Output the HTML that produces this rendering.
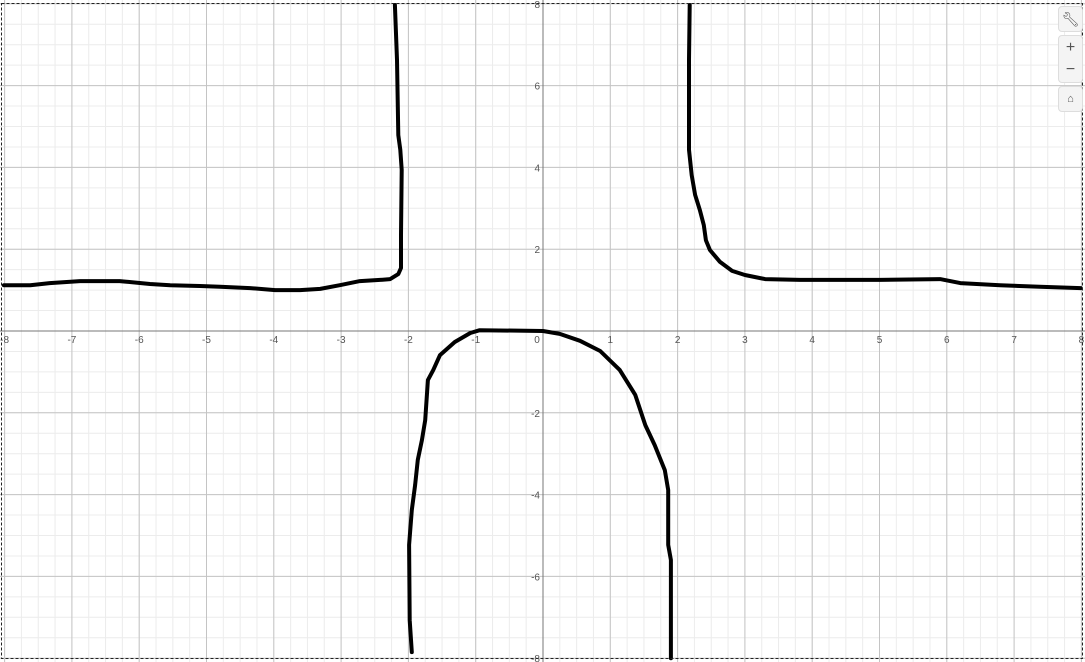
<!DOCTYPE html>
<html><head><meta charset="utf-8"><style>
html,body{margin:0;padding:0;background:#fff;}
#wrap{position:relative;width:1085px;height:662px;overflow:hidden;font-family:"Liberation Sans",sans-serif;}
svg{position:absolute;left:0;top:0;}
.btn{position:absolute;left:1058px;width:23px;background:#f4f4f4;border:1px solid #ddd;border-radius:4px;color:#555;text-align:center;font-size:14px;}
</style></head><body>
<div id="wrap">
<svg id="chart" width="1085" height="662"></svg>
<div class="btn" style="top:6px;height:24px;line-height:24px;">&#x1F527;&#xFE0E;</div>
<div class="btn" style="top:35px;height:46px;">
<div style="height:23px;line-height:23px;font-size:16px;">+</div>
<div style="height:23px;line-height:21px;font-size:16px;">&minus;</div>
</div>
<div class="btn" style="top:86px;height:24px;line-height:24px;font-size:11px;">&#x2302;</div>
</div>
<script>
const xTicks=[-8,-7,-6,-5,-4,-3,-2,-1,0,1,2,3,4,5,6,7,8];
const yTicks=[-8,-6,-4,-2,0,2,4,6,8];
const curveLeftX=[-8.01,-7.62,-7.33,-6.88,-6.29,-5.84,-5.54,-5.10,-4.80,-4.35,-3.98,-3.61,-3.31,-3.02,-2.72,-2.42,-2.27,-2.15,-2.11,-2.11,-2.10,-2.12,-2.15,-2.17,-2.20];
const curveLeftY=[1.12,1.12,1.17,1.22,1.22,1.15,1.12,1.10,1.08,1.05,1.00,1.00,1.03,1.12,1.22,1.25,1.27,1.39,1.54,2.35,3.94,4.43,4.79,6.63,7.97];
const curveRightX=[2.18,2.17,2.17,2.21,2.26,2.33,2.39,2.42,2.48,2.63,2.81,3.00,3.30,3.82,5.01,5.90,6.20,6.79,7.38,7.99];
const curveRightY=[7.97,6.63,4.43,3.81,3.33,2.96,2.59,2.22,1.98,1.69,1.47,1.37,1.27,1.25,1.25,1.27,1.17,1.12,1.08,1.05];
const curveBottomX=[-1.95,-1.98,-1.99,-1.95,-1.90,-1.86,-1.80,-1.75,-1.71,-1.63,-1.53,-1.31,-1.08,-0.94,0,0.25,0.55,0.85,1.14,1.37,1.52,1.66,1.81,1.86,1.86,1.90,1.90];
const curveBottomY=[-7.85,-7.07,-5.23,-4.38,-3.77,-3.15,-2.67,-2.18,-1.20,-0.95,-0.59,-0.27,-0.05,0.02,0,-0.07,-0.24,-0.49,-0.95,-1.56,-2.30,-2.79,-3.40,-3.89,-5.23,-5.60,-8.0];

const svg=document.getElementById('chart');
const NS='http://www.w3.org/2000/svg';
const X0=543,XS=67.3,Y0=331,YS=40.9;
const sx=v=>X0+v*XS, sy=v=>Y0-v*YS;
function mk(t,a){const e=document.createElementNS(NS,t);for(const k in a)e.setAttribute(k,a[k]);svg.appendChild(e);return e;}
// minor grid
for(let v=-8;v<=8.001;v+=0.25){const l=mk('line',{x1:sx(v),x2:sx(v),y1:0,y2:662,stroke:'#ececec','stroke-width':1});

}
for(let v=-8.5;v<=8.5;v+=0.5){const l=mk('line',{x1:0,x2:1085,y1:sy(v),y2:sy(v),stroke:'#ececec','stroke-width':1});

}
xTicks.forEach(v=>{const l=mk('line',{x1:sx(v),x2:sx(v),y1:0,y2:662,stroke:'#c4c4c4','stroke-width':1});

});
yTicks.forEach(v=>{const l=mk('line',{x1:0,x2:1085,y1:sy(v),y2:sy(v),stroke:'#c4c4c4','stroke-width':1});

});
let ax=mk('line',{x1:0,x2:1085,y1:sy(0),y2:sy(0),stroke:'#777','stroke-width':1});


let ay=mk('line',{x1:sx(0),x2:sx(0),y1:0,y2:662,stroke:'#777','stroke-width':1});


xTicks.forEach(v=>{const t=mk('text',{x:sx(v)+(v===0?-6:0),y:sy(0)+12,'font-size':10,fill:'#555','text-anchor':'middle','font-family':'Liberation Sans, sans-serif'});t.textContent=v;

});
yTicks.forEach(v=>{if(v===0)return;const t=mk('text',{x:sx(0)-3,y:sy(v)+4,'font-size':10,fill:'#555','text-anchor':'end','font-family':'Liberation Sans, sans-serif'});t.textContent=v;

});
function curve(xs,ys,name){const d=xs.map((x,i)=>(i?'L':'M')+sx(x).toFixed(1)+' '+sy(ys[i]).toFixed(1)).join(' ');
const p=mk('path',{d:d,fill:'none',stroke:'#000','stroke-width':4,'stroke-linejoin':'round','stroke-linecap':'round'});

}
curve(curveLeftX,curveLeftY,'curve-left');
curve(curveRightX,curveRightY,'curve-right');
curve(curveBottomX,curveBottomY,'curve-bottom');
const b=mk('rect',{x:1.5,y:3.5,width:1081,height:655,fill:'none',stroke:'#222','stroke-width':1,'stroke-dasharray':'3,2'});


</script>
</body></html>
